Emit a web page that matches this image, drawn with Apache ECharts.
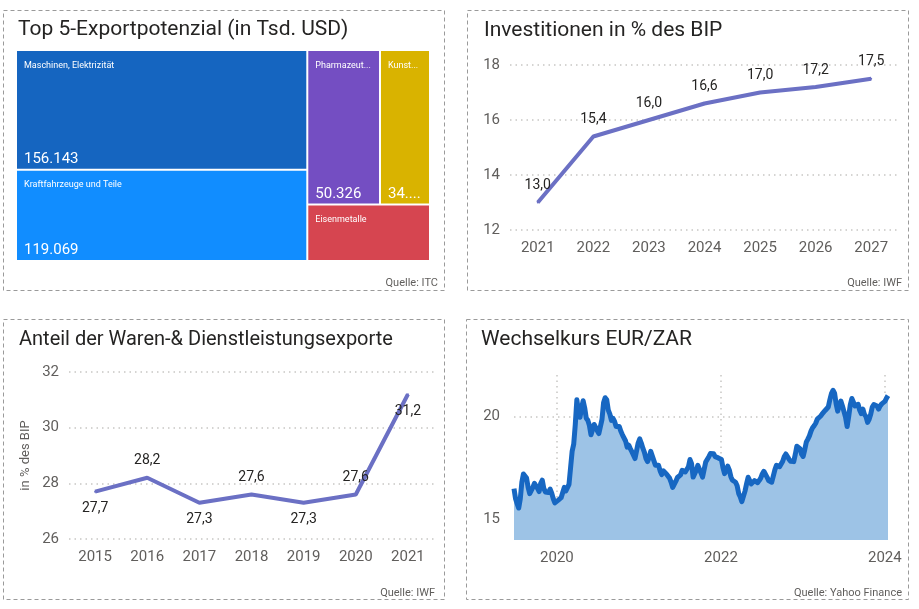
<!DOCTYPE html>
<html><head><meta charset="utf-8">
<script src="https://cdn.jsdelivr.net/npm/echarts@6/dist/echarts.min.js"></script>
<style>html,body{margin:0;padding:0;background:#fff}#c{width:919px;height:609px}</style>
</head><body><div id="c"></div>
<script>
// ---------- data ----------
const exportNames = ['Maschinen, Elektrizität', 'Kraftfahrzeuge und Teile', 'Pharmazeutische Erzeugnisse', 'Kunststoffe und Waren daraus', 'Eisenmetalle'];
const exportValues = [156143, 119069, 50326, 34612, 31000];

const investYears = ['2021', '2022', '2023', '2024', '2025', '2026', '2027'];
const investValues = [13.0, 15.4, 16.0, 16.6, 17.0, 17.2, 17.5];

const shareYears = ['2015', '2016', '2017', '2018', '2019', '2020', '2021'];
const shareValues = [27.7, 28.2, 27.3, 27.6, 27.3, 27.6, 31.2];

const fxDates = [
'2019-06-24','2019-07-01','2019-07-08','2019-07-15','2019-07-22','2019-07-29','2019-08-05','2019-08-12','2019-08-19','2019-08-26','2019-09-02','2019-09-09','2019-09-16','2019-09-23','2019-09-30','2019-10-07','2019-10-14','2019-10-21','2019-10-28','2019-11-04','2019-11-11','2019-11-18','2019-11-25','2019-12-02','2019-12-09','2019-12-16','2019-12-23','2019-12-30',
'2020-01-06','2020-01-13','2020-01-20','2020-01-27','2020-02-03','2020-02-10','2020-02-17','2020-02-24','2020-03-02','2020-03-09','2020-03-16','2020-03-23','2020-03-30','2020-04-06','2020-04-13','2020-04-20','2020-04-27','2020-05-04','2020-05-11','2020-05-18','2020-05-25','2020-06-01','2020-06-08','2020-06-15','2020-06-22','2020-06-29','2020-07-06','2020-07-13','2020-07-20','2020-07-27','2020-08-03','2020-08-10','2020-08-17','2020-08-24','2020-08-31','2020-09-07','2020-09-14','2020-09-21','2020-09-28','2020-10-05','2020-10-12','2020-10-19','2020-10-26','2020-11-02','2020-11-09','2020-11-16','2020-11-23','2020-11-30','2020-12-07','2020-12-14','2020-12-21','2020-12-28',
'2021-01-04','2021-01-11','2021-01-18','2021-01-25','2021-02-01','2021-02-08','2021-02-15','2021-02-22','2021-03-01','2021-03-08','2021-03-15','2021-03-22','2021-03-29','2021-04-05','2021-04-12','2021-04-19','2021-04-26','2021-05-03','2021-05-10','2021-05-17','2021-05-24','2021-05-31','2021-06-07','2021-06-14','2021-06-21','2021-06-28','2021-07-05','2021-07-12','2021-07-19','2021-07-26','2021-08-02','2021-08-09','2021-08-16','2021-08-23','2021-08-30','2021-09-06','2021-09-13','2021-09-20','2021-09-27','2021-10-04','2021-10-11','2021-10-18','2021-10-25','2021-11-01','2021-11-08','2021-11-15','2021-11-22','2021-11-29','2021-12-06','2021-12-13','2021-12-20','2021-12-27',
'2022-01-03','2022-01-10','2022-01-17','2022-01-24','2022-01-31','2022-02-07','2022-02-14','2022-02-21','2022-02-28','2022-03-07','2022-03-14','2022-03-21','2022-03-28','2022-04-04','2022-04-11','2022-04-18','2022-04-25','2022-05-02','2022-05-09','2022-05-16','2022-05-23','2022-05-30','2022-06-06','2022-06-13','2022-06-20','2022-06-27','2022-07-04','2022-07-11','2022-07-18','2022-07-25','2022-08-01','2022-08-08','2022-08-15','2022-08-22','2022-08-29','2022-09-05','2022-09-12','2022-09-19','2022-09-26','2022-10-03','2022-10-10','2022-10-17','2022-10-24','2022-10-31','2022-11-07','2022-11-14','2022-11-21','2022-11-28','2022-12-05','2022-12-12','2022-12-19','2022-12-26',
'2023-01-02','2023-01-09','2023-01-16','2023-01-23','2023-01-30','2023-02-06','2023-02-13','2023-02-20','2023-02-27','2023-03-06','2023-03-13','2023-03-20','2023-03-27','2023-04-03','2023-04-10','2023-04-17','2023-04-24','2023-05-01','2023-05-08','2023-05-15','2023-05-22','2023-05-29','2023-06-05','2023-06-12','2023-06-19','2023-06-26','2023-07-03','2023-07-10','2023-07-17','2023-07-24','2023-07-31','2023-08-07','2023-08-14','2023-08-21','2023-08-28','2023-09-04','2023-09-11','2023-09-18','2023-09-25','2023-10-02','2023-10-09','2023-10-16','2023-10-23','2023-10-30','2023-11-06','2023-11-13','2023-11-20','2023-11-27','2023-12-04','2023-12-11','2023-12-18','2023-12-25',
'2024-01-01','2024-01-08','2024-01-15'
];
const fxValues = [
16.49,16.0,15.76,15.55,16.0,16.8,17.2,17.1,17.0,16.55,16.25,16.3,16.55,16.75,16.8,16.5,16.35,16.75,16.9,16.49,16.33,16.36,16.3,16.47,16.27,16.0,15.8,15.8,
15.92,16.0,16.05,16.3,16.55,16.38,16.35,16.7,17.5,18.3,18.65,19.6,20.8,20.25,19.95,20.4,20.75,20.4,19.9,19.8,19.55,19.1,19.1,19.6,19.65,19.3,19.16,19.24,19.85,20.65,20.9,20.8,20.3,20.1,19.8,19.9,19.75,19.5,19.45,19.5,19.27,19.1,19.12,18.8,18.5,18.6,18.43,18.28,18.2,17.95,18.0,18.7,
18.9,18.7,18.45,18.25,17.95,17.8,18.0,18.3,18.35,17.85,17.62,17.54,17.62,17.35,17.17,17.35,17.32,17.2,17.14,17.0,16.8,16.55,16.5,16.85,17.03,16.99,17.16,17.38,17.46,17.3,17.23,17.55,17.9,17.7,17.05,17.0,17.38,17.62,17.55,17.25,17.05,17.42,17.78,17.82,18.04,18.19,18.1,18.18,18.04,18.08,17.98,18.05,
17.9,17.5,17.22,17.35,17.58,17.4,17.07,16.9,16.89,16.8,16.63,16.25,16.09,15.86,15.9,16.37,16.72,17.04,17.0,16.72,16.7,16.88,16.88,16.78,16.88,17.0,17.2,17.33,17.28,17.05,16.88,16.79,16.8,17.1,17.4,17.62,17.7,17.55,17.61,17.82,18.05,18.17,18.08,17.92,17.82,17.74,17.8,18.15,18.55,18.62,18.43,18.16,
18.05,18.37,18.74,18.89,19.05,19.28,19.44,19.54,19.66,19.86,19.93,20.0,20.1,20.13,20.28,20.28,20.45,20.8,21.1,21.26,21.12,20.6,20.25,20.52,20.74,20.5,20.22,19.95,19.5,20.0,20.55,20.86,20.8,20.5,20.41,20.58,20.29,20.13,20.35,20.09,19.98,19.7,19.85,20.1,20.45,20.57,20.57,20.5,20.35,20.5,20.6,20.55,
20.72,20.87,21.0
];
const fxYearTicks = ['2020-01-01', '2022-01-01', '2024-01-01'];
const fxValueTicks = [15, 20];

// ---------- styles ----------
const exportColors = ['#1565C0', '#118DFF', '#744EC2', '#D9B300', '#D64550'];
const exportValueShown = [true, true, true, true, false];
const shareLabelSide = ['bottom', 'top', 'bottom', 'top', 'bottom', 'top', 'bottom'];
const lineColor = '#6B70C4';
const axisGrey = '#605E5C';
const textDark = '#252423';
const gridLine = { show: true, lineStyle: { color: '#C8C6C4', width: 1.5, type: [1.5, 4] } };

function deNum(n) { return String(n).replace(/\B(?=(\d{3})+(?!\d))/g, '.'); }
function deDec(v) { return v.toFixed(1).replace('.', ','); }
function localTime(s) { const p = s.split('-').map(Number); return new Date(p[0], p[1] - 1, p[2]).getTime(); }

const chart = echarts.init(document.getElementById('c'), null, { renderer: 'canvas' });

const titleStyle = { fontSize: 21, fontWeight: 'normal', color: textDark, fontFamily: 'Roboto' };
function box(x, y, w, h) {
  return { type: 'rect', shape: { x: x, y: y, width: w, height: h }, silent: true,
    style: { fill: 'none', stroke: '#9A9A9A', lineWidth: 1, lineDash: [4, 3] } };
}
function src(text, x, y) {
  return { type: 'text', x: x, y: y, silent: true,
    style: { text: text, fontSize: 11, fill: axisGrey, fontFamily: 'Roboto', align: 'right', verticalAlign: 'middle' } };
}

const treemapBase = {
  type: 'treemap', left: 17, top: 51, width: 412, height: 209,
  roam: false, nodeClick: false, silent: true, breadcrumb: { show: false },
  emphasis: { disabled: true }
};

const option = {
  animation: false,
  textStyle: { fontFamily: 'Roboto' },
  title: [
    { text: 'Top 5-Exportpotenzial (in Tsd. USD)', left: 18, top: 19, padding: 0, textStyle: titleStyle },
    { text: 'Investitionen in % des BIP', left: 484, top: 20, padding: 0, textStyle: titleStyle },
    { text: 'Anteil der Waren-& Dienstleistungsexporte', left: 19, top: 330, padding: 0, textStyle: Object.assign({}, titleStyle, { fontSize: 20 }) },
    { text: 'Wechselkurs EUR/ZAR', left: 481, top: 329, padding: 0, textStyle: titleStyle }
  ],
  graphic: [
    box(3.5, 10.5, 441, 280), box(467.5, 10.5, 441, 280),
    box(3.5, 319.5, 441, 280), box(466.5, 319.5, 442, 280),
    src('Quelle: ITC', 438, 283), src('Quelle: IWF', 902, 283),
    src('Quelle: IWF', 435, 593), src('Quelle: Yahoo Finance', 902, 593)
  ],
  grid: [
    { left: 510, top: 65, width: 389, height: 165 },
    { left: 69, top: 372, width: 365, height: 167 },
    { left: 514, top: 375, width: 374, height: 165 }
  ],
  xAxis: [
    { type: 'category', gridIndex: 0, data: investYears, boundaryGap: true,
      axisLine: { show: false }, axisTick: { show: false },
      axisLabel: { color: axisGrey, fontSize: 15, margin: 11 } },
    { type: 'category', gridIndex: 1, data: shareYears, boundaryGap: true,
      axisLine: { show: false }, axisTick: { show: false },
      axisLabel: { color: axisGrey, fontSize: 15, margin: 11 } },
    { type: 'value', gridIndex: 2, min: localTime(fxDates[0]), max: localTime(fxDates[fxDates.length - 1]),
      axisLine: { show: false },
      axisTick: { show: false, customValues: fxYearTicks.map(localTime) },
      axisLabel: { color: axisGrey, fontSize: 15, margin: 11, customValues: fxYearTicks.map(localTime),
        formatter: function (v) { return String(new Date(v).getFullYear()); } },
      splitLine: gridLine }
  ],
  yAxis: [
    { type: 'value', gridIndex: 0, min: 12, max: 18, interval: 2,
      axisLine: { show: false }, axisTick: { show: false },
      axisLabel: { color: axisGrey, fontSize: 15, margin: 10 }, splitLine: gridLine },
    { type: 'value', gridIndex: 1, min: 26, max: 32, interval: 2,
      name: 'in % des BIP', nameLocation: 'middle', nameRotate: 90, nameGap: 37,
      nameTextStyle: { color: axisGrey, fontSize: 13 },
      axisLine: { show: false }, axisTick: { show: false },
      axisLabel: { color: axisGrey, fontSize: 15, margin: 10 }, splitLine: gridLine },
    { type: 'value', gridIndex: 2, min: 14, max: 22,
      axisLine: { show: false },
      axisTick: { show: false, customValues: fxValueTicks },
      axisLabel: { color: axisGrey, fontSize: 15, margin: 14, customValues: fxValueTicks },
      splitLine: gridLine }
  ],
  series: [
    Object.assign({}, treemapBase, {
      itemStyle: { gapWidth: 2, borderWidth: 0, borderColor: '#fff' },
      levels: [{ itemStyle: { gapWidth: 2, borderWidth: 0, borderColor: '#fff' } }],
      label: { show: true, position: 'insideTopLeft', color: '#fff', fontSize: 9, distance: 0, padding: [10, 6, 0, 7], formatter: '{b}', overflow: 'truncate', ellipsis: '...' },
      data: exportNames.map(function (n, i) { return { name: n, value: exportValues[i], itemStyle: { color: exportColors[i] } }; })
    }),
    Object.assign({}, treemapBase, {
      itemStyle: { gapWidth: 2, borderWidth: 0, borderColor: 'rgba(0,0,0,0)' },
      levels: [{ itemStyle: { gapWidth: 2, borderWidth: 0, borderColor: 'rgba(0,0,0,0)' } }],
      label: { show: true, position: 'insideBottomLeft', color: '#fff', fontSize: 15, distance: 0, padding: [0, 4, 2, 7],
        formatter: function (p) { return deNum(p.value); }, overflow: 'truncate', ellipsis: '....' },
      data: exportNames.map(function (n, i) { return { name: n, value: exportValues[i],
        itemStyle: { color: 'rgba(0,0,0,0)', borderColor: 'rgba(0,0,0,0)' }, label: { show: exportValueShown[i] } }; })
    }),
    { type: 'line', xAxisIndex: 0, yAxisIndex: 0, data: investValues,
      symbol: 'circle', symbolSize: 2, itemStyle: { color: lineColor },
      lineStyle: { color: lineColor, width: 4 },
      label: { show: true, position: 'top', distance: 9, color: textDark, fontSize: 14,
        formatter: function (p) { return deDec(p.value); } } },
    { type: 'line', xAxisIndex: 1, yAxisIndex: 1,
      data: shareValues.map(function (v, i) { return { value: v, label: { position: shareLabelSide[i] } }; }),
      symbol: 'circle', symbolSize: 2, itemStyle: { color: lineColor },
      lineStyle: { color: lineColor, width: 4 },
      label: { show: true, distance: 9, color: textDark, fontSize: 14,
        formatter: function (p) { return deDec(p.value); } } },
    { type: 'line', xAxisIndex: 2, yAxisIndex: 2,
      data: fxDates.map(function (d, i) { return [localTime(d), fxValues[i]]; }),
      symbol: 'none', lineStyle: { color: '#1767C2', width: 5, join: 'round' },
      areaStyle: { color: '#9DC3E6', opacity: 1, origin: 'start' } }
  ]
};
chart.setOption(option);
</script>
</body></html>
